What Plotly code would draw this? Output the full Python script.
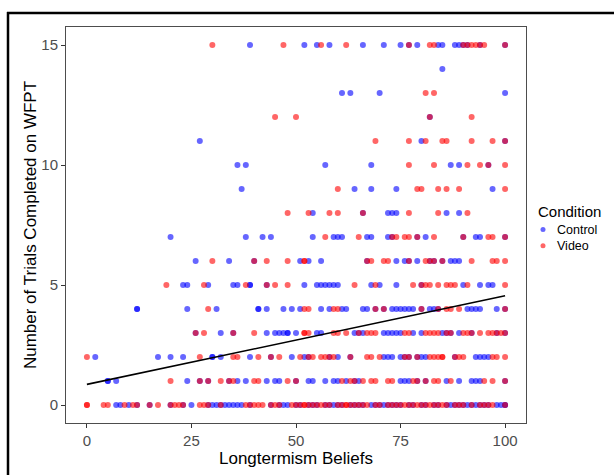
import plotly.graph_objects as go

# ---------------- data ----------------
# Control condition: x = Longtermism Beliefs, y = trials completed
ctrl_x = [
    # y = 15
    39, 52, 55, 58, 66, 71, 75, 77, 79, 84, 85, 88, 89, 90, 91, 94, 100,
    # y = 14
    85,
    # y = 13
    61, 63, 70, 100,
    # y = 12
    82,
    # y = 11
    27, 80, 100,
    # y = 10
    36, 38, 57, 68, 87, 89, 96,
    # y = 9
    37, 64, 68, 74, 97,
    # y = 8
    54, 66, 72, 73, 74, 86, 89,
    # y = 7
    20, 38, 42, 44, 54, 59, 60, 61, 67, 68, 72, 73, 79, 81, 90, 93, 94, 100,
    # y = 6
    26, 34, 40, 51, 53, 56, 67, 74, 76, 77, 79, 82, 83, 85, 87, 88, 89,
    # y = 5
    23, 24, 29, 35, 36, 39, 39, 43, 52, 55, 56, 57, 58, 59, 60, 68, 70, 74, 80, 90, 94, 96, 97,
    # y = 4
    12, 12, 24, 31, 41, 41, 43, 47, 49, 51, 56, 58, 61, 62, 66, 67, 69, 71, 73, 74, 75, 76, 77,
    78, 80, 82, 83, 84, 91, 92, 93, 94, 98, 100,
    # y = 3
    26, 32, 35, 43, 45, 46, 47, 48, 48, 50, 55, 56, 64, 65, 66, 71, 72, 73, 74, 75, 78, 80, 85,
    86, 87, 89, 92, 98, 100,
    # y = 2
    2, 17, 20, 23, 30, 30, 32, 39, 44, 49, 52, 53, 58, 60, 63, 71, 72, 73, 75, 76, 77, 79, 80,
    81, 88, 93, 94, 95, 96,
    # y = 1
    5, 5, 7, 24, 27, 29, 34, 36, 38, 43, 45, 46, 50, 53, 54, 57, 59, 60, 62, 64, 65, 75, 76, 77,
    79, 81, 86, 89, 92, 93, 94, 100,
    # y = 0
    7, 8, 10, 12, 15, 20, 23, 25, 29, 30, 31, 32, 33, 34, 35, 36, 37, 39, 44, 46, 47, 48, 50,
    51, 53, 54, 55, 57, 58, 59, 60, 61, 63, 64, 65, 66, 68, 69, 70, 71, 72, 73, 74, 75, 77, 78,
    80, 81, 83, 84, 86, 87, 88, 89, 90, 91, 92, 93, 94, 95, 96, 98, 99, 100, 100,
]
ctrl_y = (
    [15] * 17 + [14] * 1 + [13] * 4 + [12] * 1 + [11] * 3 + [10] * 7 + [9] * 5 + [8] * 7
    + [7] * 18 + [6] * 17 + [5] * 23 + [4] * 34 + [3] * 29 + [2] * 29 + [1] * 32 + [0] * 65
)

# Video condition
video_x = [
    # y = 15
    30, 47, 56, 62, 77, 82, 83, 90, 91, 92, 93, 94, 95, 100,
    # y = 13
    81, 83,
    # y = 12
    45, 50, 82, 92,
    # y = 11
    69, 77, 81, 85, 86, 92, 97, 100,
    # y = 10
    77, 83, 91, 94, 96, 100,
    # y = 9
    60, 79, 80, 84, 86, 89, 100,
    # y = 8
    48, 53, 58, 60, 66, 77, 84, 91,
    # y = 7
    57, 65, 73, 74, 76, 77, 79, 83, 90, 96, 97, 100,
    # y = 6
    30, 40, 43, 48, 52, 52, 67, 68, 71, 72, 77, 81, 82, 83, 85, 92, 97, 98, 100,
    # y = 5
    19, 28, 38, 43, 45, 48, 64, 69, 78, 80, 81, 82, 84, 86, 87, 88, 91, 100,
    # y = 4
    29, 52, 53, 59, 60, 69, 71, 80, 84, 86, 87, 89, 100,
    # y = 3
    26, 28, 35, 40, 52, 52, 53, 59, 60, 62, 65, 67, 68, 69, 76, 77, 81, 82, 83, 84, 86, 87, 90,
    91, 92, 94, 96, 97, 98, 99, 100,
    # y = 2
    0, 27, 35, 36, 41, 44, 46, 51, 53, 54, 56, 57, 58, 59, 63, 67, 68, 70, 76, 77, 79, 82, 83,
    84, 85, 85, 88, 89, 90, 97, 98, 100,
    # y = 1
    20, 27, 29, 32, 34, 35, 40, 41, 48, 50, 61, 63, 64, 66, 68, 69, 72, 73, 78, 79, 81, 83, 84,
    87, 95, 97, 100,
    # y = 0
    0, 0, 4, 5, 9, 11, 12, 15, 17, 20, 21, 22, 23, 27, 28, 29, 32, 38, 39, 40, 41, 42, 44, 45,
    46, 49, 50, 52, 51, 52, 53, 54, 55, 56, 57, 58, 60, 61, 62, 62, 63, 64, 65, 66, 67, 69, 70,
    72, 73, 74, 75, 76, 77, 78, 79, 80, 81, 82, 83, 84, 85, 86, 88, 89, 90, 92, 94, 95, 96, 97,
    100,
]
video_y = (
    [15] * 14 + [13] * 2 + [12] * 4 + [11] * 8 + [10] * 6 + [9] * 7 + [8] * 8 + [7] * 12
    + [6] * 19 + [5] * 18 + [4] * 13 + [3] * 31 + [2] * 32 + [1] * 27 + [0] * 71
)

# fitted linear trend (end points)
fit_x = [0, 100]
fit_y = [0.86, 4.55]

conditions = ["Control", "Video"]
x_ticks = [0, 25, 50, 75, 100]
y_ticks = [0, 5, 10, 15]

# ---------------- figure ----------------
W, H = 614, 475
ML, MR, MT, MB = 66, 88, 27, 52
PW, PH = W - ML - MR, H - MT - MB


def px_x(p):
    return (p - ML) / PW


def px_y(p):
    return (H - MB - p) / PH


FONT = "Liberation Sans, Arial, sans-serif"
BLUE = "rgb(0,0,255)"
RED = "rgb(255,0,0)"

fig = go.Figure()
fig.add_trace(go.Scatter(
    x=ctrl_x[:len(ctrl_y)], y=ctrl_y, mode="markers", name=conditions[0],
    marker=dict(color=BLUE, size=6, opacity=0.6, line=dict(width=0)),
    showlegend=False,
))
fig.add_trace(go.Scatter(
    x=video_x[:len(video_y)], y=video_y, mode="markers", name=conditions[1],
    marker=dict(color=RED, size=6, opacity=0.6, line=dict(width=0)),
    showlegend=False,
))
fig.add_trace(go.Scatter(
    x=fit_x, y=fit_y, mode="lines", line=dict(color="black", width=1.6),
    showlegend=False, hoverinfo="skip",
))

axis_common = dict(
    showgrid=False, zeroline=False, showline=True, mirror=True,
    linecolor="#4d4d4d", linewidth=1, ticks="outside", ticklen=4,
    tickwidth=1, tickcolor="#333333",
    tickfont=dict(family=FONT, size=15, color="#4d4d4d"),
)
fig.update_xaxes(
    range=[-5, 105], tickvals=x_ticks,
    title=dict(text="Longtermism Beliefs", font=dict(family=FONT, size=17, color="black"), standoff=3),
    **axis_common,
)
fig.update_yaxes(
    range=[-0.75, 15.75], tickvals=y_ticks,
    title=dict(text="Number of Trials Completed on WFPT", font=dict(family=FONT, size=17, color="black"), standoff=0),
    **axis_common,
)

# custom legend (ggplot style, tight spacing); labels in one wrapped text block
LEG_FONT = 12.5
line_h = LEG_FONT * 1.3
mid_y = 237.5
annotations = [
    dict(text="Condition", x=px_x(536), y=px_y(211), xref="paper", yref="paper",
         xanchor="left", yanchor="middle", showarrow=False,
         font=dict(family=FONT, size=15, color="black")),
    dict(text="<br>".join(conditions), x=px_x(556), y=px_y(mid_y), xref="paper", yref="paper",
         xanchor="left", yanchor="middle", align="left", showarrow=False, borderpad=0,
         font=dict(family=FONT, size=LEG_FONT, color="black")),
]
shapes = []
for i, col in enumerate([BLUE, RED]):
    cy = mid_y + (i - 0.5) * line_h
    shapes.append(dict(type="circle", xref="paper", yref="paper",
                       x0=px_x(540.5), x1=px_x(545.5), y0=px_y(cy + 2.5), y1=px_y(cy - 2.5),
                       fillcolor=col, opacity=0.6, line=dict(width=0)))

# outer black frame of the picture
shapes.append(dict(type="line", xref="paper", yref="paper",
                   x0=px_x(8), x1=px_x(8), y0=px_y(12), y1=px_y(476),
                   line=dict(color="black", width=2.5)))
shapes.append(dict(type="line", xref="paper", yref="paper",
                   x0=px_x(7), x1=px_x(615), y0=px_y(13), y1=px_y(13),
                   line=dict(color="black", width=2.5)))

fig.update_layout(
    width=W, height=H,
    margin=dict(l=ML, r=MR, t=MT, b=MB),
    paper_bgcolor="white", plot_bgcolor="white",
    font=dict(family=FONT),
    annotations=annotations, shapes=shapes,
    showlegend=False,
)

fig.write_html(
    "out.html",
    config={"displayModeBar": False},
    post_script="document.body.style.margin='0';document.body.style.padding='0';",
)
